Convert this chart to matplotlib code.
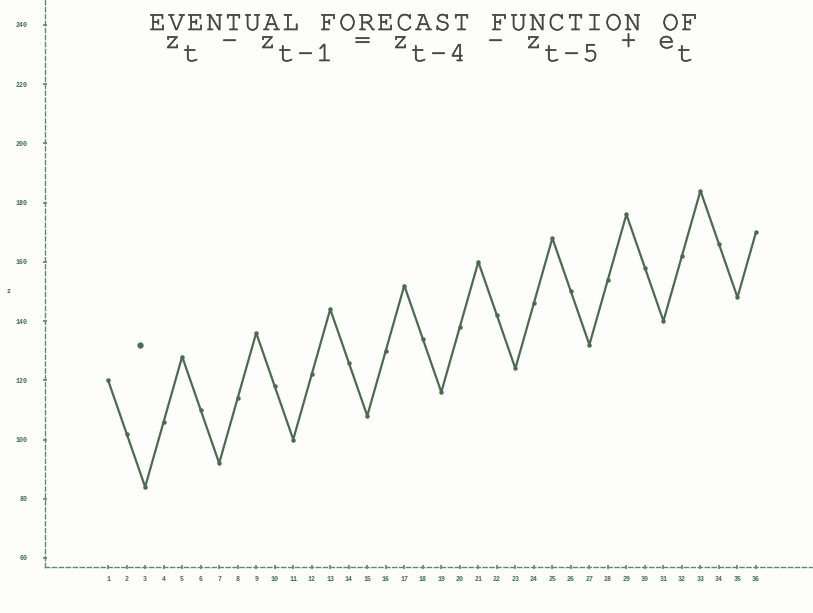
import matplotlib.pyplot as plt
import matplotlib.patheffects as pe
from matplotlib import font_manager

# eventual forecast function, t = 1..36
t_values = list(range(1, 37))
z_values = [120, 102, 84, 106, 128, 110, 92, 114, 136, 118, 100, 122,
            144, 126, 108, 130, 152, 134, 116, 138, 160, 142, 124, 146,
            168, 150, 132, 154, 176, 158, 140, 162, 184, 166, 148, 170]

# loose point left on the plot
stray_t = [2.73]
stray_z = [132]

y_ticks = [60, 80, 100, 120, 140, 160, 180, 200, 220, 240]
x_ticks = t_values

title_line = 'EVENTUAL FORECAST FUNCTION OF'
# second title line: main characters and lowered subscripts share one grid
main_line = 'z  - z    = z    - z    + e '
sub_line = ' t    t-1    t-4    t-5    t'

line_color = '#4a6b50'
axis_color = '#5f8a68'
label_color = '#3f6e4b'
title_color = '#464846'

# prefer a courier-like face when one is around
installed = {f.name for f in font_manager.fontManager.ttflist}
mono = next((n for n in ['Courier New', 'Nimbus Mono PS', 'FreeMono',
                         'Liberation Mono', 'DejaVu Sans Mono']
             if n in installed), 'monospace')
tick_font = 'Liberation Mono'
# thicken the thin courier strokes a little, like a typewriter ribbon
ink = [pe.withStroke(linewidth=0.45, foreground=title_color)]

W, H = 813, 613
fig = plt.figure(figsize=(W / 100, H / 100), dpi=100)
fig.patch.set_facecolor('#fdfdfc')

ax = fig.add_axes([45 / W, 46 / H, 768 / W, 567 / H])
ax.set_facecolor('none')

ax.plot(t_values, z_values, color=line_color, linewidth=1.6,
        marker='o', markersize=2.2)
ax.plot(stray_t, stray_z, 'o', color=line_color, markersize=3.5)

ax.set_xlim(-2.41, 39.08)
ax.set_ylim(56.96, 248.4)

for side in ['top', 'right']:
    ax.spines[side].set_visible(False)
for side in ['left', 'bottom']:
    ax.spines[side].set_color(axis_color)
    ax.spines[side].set_linewidth(1.0)
    ax.spines[side].set_linestyle((0, (3, 2)))

ax.set_xticks(x_ticks)
ax.set_yticks(y_ticks)
ax.set_xticklabels([str(t) for t in x_ticks], fontsize=4.8, family=tick_font,
                   fontweight='bold', color=label_color)
ax.set_yticklabels([str(v) for v in y_ticks], fontsize=4.8, family=tick_font,
                   fontweight='bold', color=label_color)
ax.tick_params(axis='x', direction='inout', length=3, width=1.2,
               color=axis_color, pad=5)
ax.tick_params(axis='y', direction='inout', length=3, width=1.2,
               color=axis_color, pad=11)

fig.text(8 / W, 1 - 292 / H, 'z', fontsize=4.8, family=tick_font,
         fontweight='bold', color=label_color, ha='center', va='center')


def typewriter(text, left, baseline, step=19, size=20):
    # one glyph per fixed-width cell, like a line printer
    for i, ch in enumerate(text):
        if ch == ' ':
            continue
        fig.text((left + step * (i + 0.5)) / W, 1 - baseline / H, ch,
                 fontsize=size, family=mono, color=title_color,
                 ha='center', va='baseline', path_effects=ink)


typewriter(title_line, 148, 30)
typewriter(main_line, 163, 48)
typewriter(sub_line, 163, 61)

plt.savefig('out.png', dpi=100, facecolor=fig.get_facecolor())
